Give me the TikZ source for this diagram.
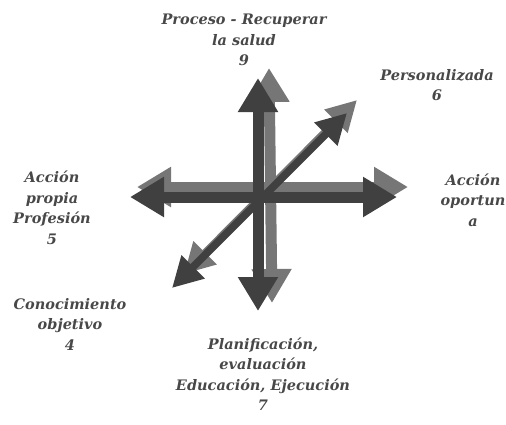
\documentclass[tikz,border=0pt]{standalone}
\usepackage{fontspec}
\setmainfont{Liberation Serif}
\newfontfamily\lblfont{DejaVu Serif Bold Italic}
\usetikzlibrary{arrows.meta}
\definecolor{darkarr}{HTML}{404040}
\definecolor{lightarr}{HTML}{767676}
\definecolor{txtc}{HTML}{484848}
\begin{document}
\begin{tikzpicture}[x=1pt,y=-1pt,
  lbl/.style={align=center,text=txtc,inner sep=1pt,font=\lblfont\fontsize{14.5}{20.5}\selectfont},
  bigarr/.style={line width=11pt,{Triangle[length=34pt,width=38pt]}-{Triangle[length=34pt,width=38pt]}},
  diagarr/.style={line width=7.5pt,{Triangle[length=30pt,width=31pt]}-{Triangle[length=30pt,width=31pt]}}]
\useasboundingbox (0,0) rectangle (506,424);
% shadow (light) arrows
\coordinate (lvT) at (269,68);
\coordinate (lvB) at (272,303);
\coordinate (lhL) at (137,187);
\coordinate (lhR) at (408,187);
\coordinate (ldA) at (184,274);
\coordinate (ldB) at (357,100);
\draw[bigarr,lightarr] (lvB) -- (lvT);
\draw[bigarr,lightarr] (lhL) -- (lhR);
\draw[diagarr,lightarr] (ldA) -- (ldB);
% dark arrows
\coordinate (dhL) at (130,197);
\coordinate (dhR) at (397,197);
\coordinate (dvT) at (258,78);
\coordinate (dvB) at (258,311);
\coordinate (ddA) at (172,288);
\coordinate (ddB) at (347,113);
\draw[bigarr,darkarr] (dhL) -- (dhR);
\draw[bigarr,darkarr] (dvB) -- (dvT);
\draw[diagarr,darkarr] (ddA) -- (ddB);
% labels
\node[lbl] (n9) at (244,40) {Proceso - Recuperar\\la salud\\9};
\node[lbl] (n6) at (437,85) {Personalizada\\6};
\node[lbl] (n5) at (52,208) {Acción\\propia\\Profesión\\5};
\node[lbl] (na) at (473,200) {Acción\\oportun\\a};
\node[lbl] (n4) at (70,324) {Conocimiento\\objetivo\\4};
\node[lbl] (n7) at (263,374) {Planificación,\\evaluación\\Educación, Ejecución\\7};
\end{tikzpicture}
\end{document}
